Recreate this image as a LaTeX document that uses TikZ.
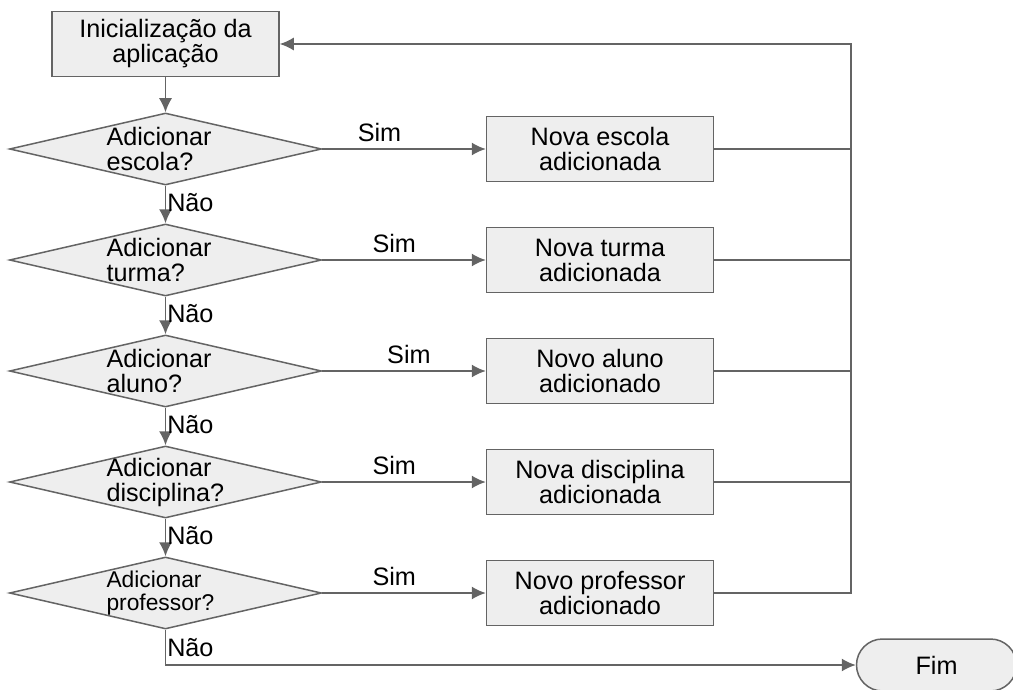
\documentclass[tikz,border=0pt]{standalone}
\usepackage{fontspec}
\setmainfont{Liberation Sans}
\usetikzlibrary{shapes.geometric, arrows.meta}
\definecolor{linegray}{RGB}{100,100,100}
\definecolor{boxgray}{RGB}{238,238,238}
\tikzset{
    startstop/.style={rectangle, rounded corners=13pt, minimum width=80pt, minimum height=26pt, text centered, draw=linegray, fill=boxgray, line width=0.75pt, font=\fontsize{12.6}{12.5}\selectfont},
    process/.style={rectangle, minimum width=113.5pt, minimum height=32.5pt, align=center, draw=linegray, fill=boxgray, line width=0.75pt, font=\fontsize{12.6}{12.5}\selectfont},
    decision/.style={diamond, aspect=4.33, minimum width=156pt, minimum height=36pt, inner xsep=-6pt, inner ysep=-3pt, text width=59pt, align=left, draw=linegray, fill=boxgray, line width=0.75pt, font=\fontsize{12.6}{12.5}\selectfont},
    arrow/.style={line width=0.75pt, draw=linegray, -{Latex[length=7pt,width=6.5pt]}},
    line/.style={line width=0.75pt, draw=linegray},
    yes/.style={anchor=south, font=\fontsize{12.6}{12.5}\selectfont},
    no/.style={anchor=west, inner sep=0.5pt, pos=0.45, font=\fontsize{12.6}{12.5}\selectfont}
}
\begin{document}
\begin{tikzpicture}[node distance=55.5pt]
    \useasboundingbox (0,0) rectangle (506.5pt,-345pt);

    \node (start) [process] at (82.75pt,-22pt) {Inicialização da\\aplicação};
    \node (dec1) [decision, below of=start, yshift=3pt] {Adicionar\\escola?};
    \node (dec2) [decision, below of=dec1] {Adicionar\\turma?};
    \node (dec3) [decision, below of=dec2] {Adicionar\\aluno?};
    \node (dec4) [decision, below of=dec3] {Adicionar\\disciplina?};
    \node (dec5) [decision, below of=dec4, font=\fontsize{11.4}{11.5}\selectfont] {Adicionar\\professor?};
    \node (pro1) [process, right of=dec1, xshift=161.75pt] {Nova escola\\adicionada};
    \node (pro2) [process, right of=dec2, xshift=161.75pt] {Nova turma\\adicionada};
    \node (pro3) [process, right of=dec3, xshift=161.75pt] {Novo aluno\\adicionado};
    \node (pro4) [process, right of=dec4, xshift=161.75pt] {Nova disciplina\\adicionada};
    \node (pro5) [process, right of=dec5, xshift=161.75pt] {Novo professor\\adicionado};
    \node (stop) [startstop, below of=pro5, xshift=168.25pt, yshift=19.5pt] {Fim};
    \coordinate (bus) at (425.5pt,-22pt);

    \draw [arrow] (start) -- (dec1);
    \draw [arrow] (dec1) -- node[no] {Não} (dec2);
    \draw [arrow] (dec2) -- node[no] {Não} (dec3);
    \draw [arrow] (dec3) -- node[no] {Não} (dec4);
    \draw [arrow] (dec4) -- node[no] {Não} (dec5);
    \draw [arrow] (dec5) |- node[no, pos=0.25] {Não} (stop);

    \draw [arrow] (dec1) -- node[yes, pos=0.35] {Sim} (pro1);
    \draw [arrow] (dec2) -- node[yes, pos=0.44] {Sim} (pro2);
    \draw [arrow] (dec3) -- node[yes, pos=0.53] {Sim} (pro3);
    \draw [arrow] (dec4) -- node[yes, pos=0.44] {Sim} (pro4);
    \draw [arrow] (dec5) -- node[yes, pos=0.44] {Sim} (pro5);

    \draw [line] (pro1.east) -- (pro1.east -| bus);
    \draw [line] (pro2.east) -- (pro2.east -| bus);
    \draw [line] (pro3.east) -- (pro3.east -| bus);
    \draw [line] (pro4.east) -- (pro4.east -| bus);
    \draw [arrow] (pro5.east) -| (bus) -- (start.east);

\end{tikzpicture}
\end{document}
